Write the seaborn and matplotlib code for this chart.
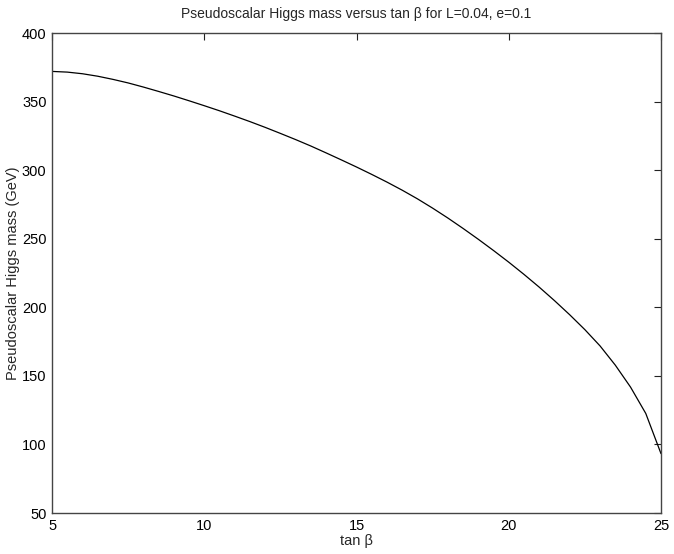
import matplotlib
matplotlib.use("Agg")
import matplotlib.pyplot as plt
import seaborn as sns

# === Data (step 0.5 in tan beta) ===
tan_beta = [5, 5.5, 6, 6.5, 7, 7.5, 8, 8.5, 9, 9.5, 10, 10.5, 11, 11.5,
            12, 12.5, 13, 13.5, 14, 14.5, 15, 15.5, 16, 16.5, 17, 17.5,
            18, 18.5, 19, 19.5, 20, 20.5, 21, 21.5, 22, 22.5, 23, 23.5,
            24, 24.5, 25]
mass_A = [372.0, 371.5, 370.3, 368.5, 366.2, 363.6, 360.6, 357.4, 354.1,
          350.6, 347.0, 343.3, 339.4, 335.4, 331.2, 326.8, 322.3, 317.6,
          312.6, 307.5, 302.3, 296.9, 291.3, 285.4, 279.1, 272.3, 265.1,
          257.5, 249.6, 241.4, 232.9, 224.0, 214.7, 204.9, 194.6, 183.7,
          171.8, 157.8, 141.8, 122.6, 93.3]
x_ticks = [5, 10, 15, 20, 25]
y_ticks = [50, 100, 150, 200, 250, 300, 350, 400]

sns.set_theme(style="white")
plt.rcParams['font.family'] = ['Liberation Sans', 'DejaVu Sans']

fig = plt.figure(figsize=(6.74, 5.54), dpi=100)
ax = fig.add_axes([0.0772, 0.074, 0.9035, 0.8664])

sns.lineplot(x=tan_beta, y=mass_A, ax=ax, color='black', linewidth=0.9)

ax.set_xlim(5, 25)
ax.set_ylim(50, 400)
ax.set_xticks(x_ticks)
ax.set_yticks(y_ticks)
ax.tick_params(direction='in', length=5, width=0.8, colors='#222222',
               labelsize=10.5, top=True, right=True, pad=4)
ax.tick_params(labelcolor='black')
for sp in ax.spines.values():
    sp.set_color('#444444')
    sp.set_linewidth(1.0)

ax.set_title("Pseudoscalar Higgs mass versus tan β for L=0.04, e=0.1",
             fontsize=10, pad=10.5)
ax.set_xlabel("tan β", fontsize=10.5, labelpad=1)
ax.set_ylabel("Pseudoscalar Higgs mass (GeV)", fontsize=10.5, labelpad=1)

fig.savefig("out.png", dpi=100)
